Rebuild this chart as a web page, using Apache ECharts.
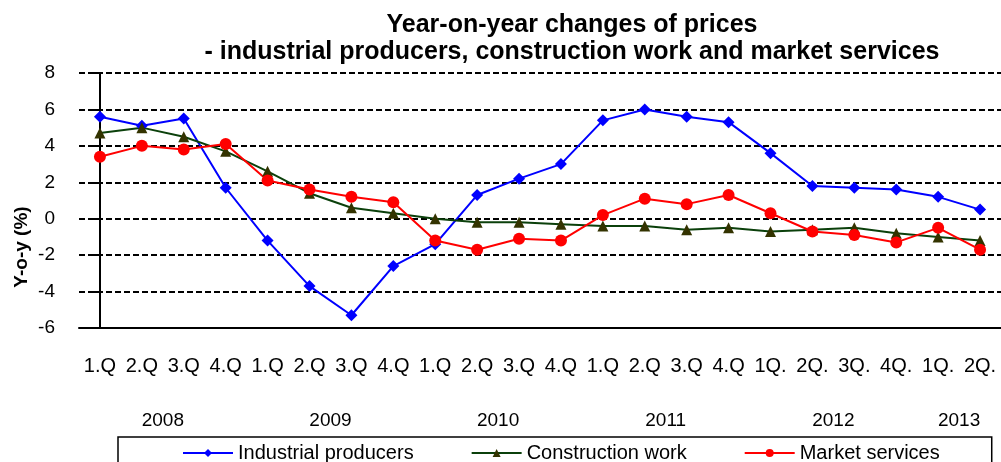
<!DOCTYPE html>
<html>
<head>
<meta charset="utf-8">
<script src="https://cdn.jsdelivr.net/npm/echarts@6/dist/echarts.min.js"></script>
<style>html,body{margin:0;padding:0;background:#fff;}#c{width:1001px;height:462px;}</style>
</head>
<body>
<div id="c"></div>
<script>
var categories = ['1.Q','2.Q','3.Q','4.Q','1.Q','2.Q','3.Q','4.Q','1.Q','2.Q','3.Q','4.Q','1.Q','2.Q','3.Q','4.Q','1Q.','2Q.','3Q.','4Q.','1Q.','2Q.'];
var years = ['2008','2009','2010','2011','2012','2013'];
var quartersPerYear = [4,4,4,4,4,2];
var industrial = [5.6,5.1,5.5,1.7,-1.2,-3.7,-5.3,-2.6,-1.4,1.3,2.2,3.0,5.4,6.0,5.6,5.3,3.6,1.8,1.7,1.6,1.2,0.5];
var construction = [4.7,5.0,4.5,3.7,2.6,1.4,0.6,0.3,0.0,-0.2,-0.2,-0.3,-0.4,-0.4,-0.6,-0.5,-0.7,-0.6,-0.5,-0.8,-1.0,-1.2];
var market = [3.4,4.0,3.8,4.1,2.1,1.6,1.2,0.9,-1.2,-1.7,-1.1,-1.2,0.2,1.1,0.8,1.3,0.3,-0.7,-0.9,-1.3,-0.5,-1.7];
var yTicks = [-6,-4,-2,0,2,4,6,8];

// year label positions: centre of each year's quarter group
var yearCenters = [];
var start = 0;
for (var i = 0; i < quartersPerYear.length; i++) {
  yearCenters.push(start + (quartersPerYear[i] - 1) / 2);
  start += quartersPerYear[i];
}

var FF = "'Liberation Sans', Arial, sans-serif";
var chart = echarts.init(document.getElementById('c'), null, {renderer: 'canvas'});
chart.setOption({
  animation: false,
  backgroundColor: '#ffffff',
  title: {
    text: 'Year-on-year changes of prices\n- industrial producers, construction work and market services',
    left: 567, top: 7, textAlign: 'center',
    textStyle: {fontFamily: FF, fontWeight: 'bold', fontSize: 25, color: '#000', lineHeight: 27}
  },
  graphic: [{
    type: 'text', x: 22, y: 247, rotation: Math.PI / 2,
    style: {text: 'Y-o-y (%)', fontFamily: FF, fontWeight: 'bold', fontSize: 19, fill: '#000',
            textAlign: 'center', textVerticalAlign: 'middle'}
  }],
  legend: {
    left: 118, top: 437,
    padding: [6, 52, 20, 64],
    borderColor: '#000', borderWidth: 1.5,
    itemWidth: 50, itemHeight: 10, itemGap: 57,
    textStyle: {fontFamily: FF, fontSize: 20, color: '#000'},
    data: ['Industrial producers','Construction work','Market services']
  },
  grid: {left: 79, top: 73, width: 923, height: 255, containLabel: false},
  xAxis: [{
    type: 'category', data: categories, boundaryGap: true,
    axisLine: {onZero: false, lineStyle: {color: '#000', width: 2}},
    axisTick: {show: false},
    axisLabel: {margin: 28, fontFamily: FF, fontSize: 20, color: '#000', interval: 0},
    splitLine: {show: false}
  }, {
    type: 'value', min: -0.5, max: 21.5, position: 'bottom', offset: 75,
    axisLine: {show: false}, axisTick: {show: false}, splitLine: {show: false},
    axisLabel: {
      customValues: yearCenters, margin: 8,
      fontFamily: FF, fontSize: 19, color: '#000',
      formatter: function (v) {
        var k = yearCenters.indexOf(v);
        return k >= 0 ? years[k] : '';
      }
    }
  }],
  yAxis: {
    type: 'value', min: yTicks[0], max: yTicks[yTicks.length - 1], interval: 2,
    axisLine: {show: true, lineStyle: {color: '#000', width: 2}},
    axisTick: {show: true, inside: false, length: 7, lineStyle: {color: '#000', width: 2}},
    axisLabel: {margin: 24, fontFamily: FF, fontSize: 19, color: '#000'},
    splitLine: {show: true, lineStyle: {color: '#000', width: 2, type: [6, 3]}}
  },
  series: [{
    name: 'Industrial producers', type: 'line', data: industrial,
    symbol: 'diamond', symbolSize: 12,
    lineStyle: {color: '#0000ff', width: 2},
    itemStyle: {color: '#0000ff'}
  }, {
    name: 'Construction work', type: 'line', data: construction,
    symbol: 'triangle', symbolSize: 11,
    lineStyle: {color: '#0b400b', width: 2},
    itemStyle: {color: '#333300'}
  }, {
    name: 'Market services', type: 'line', data: market,
    symbol: 'circle', symbolSize: 12,
    lineStyle: {color: '#ff0000', width: 2},
    itemStyle: {color: '#ff0000'}
  }]
});
</script>
</body>
</html>
